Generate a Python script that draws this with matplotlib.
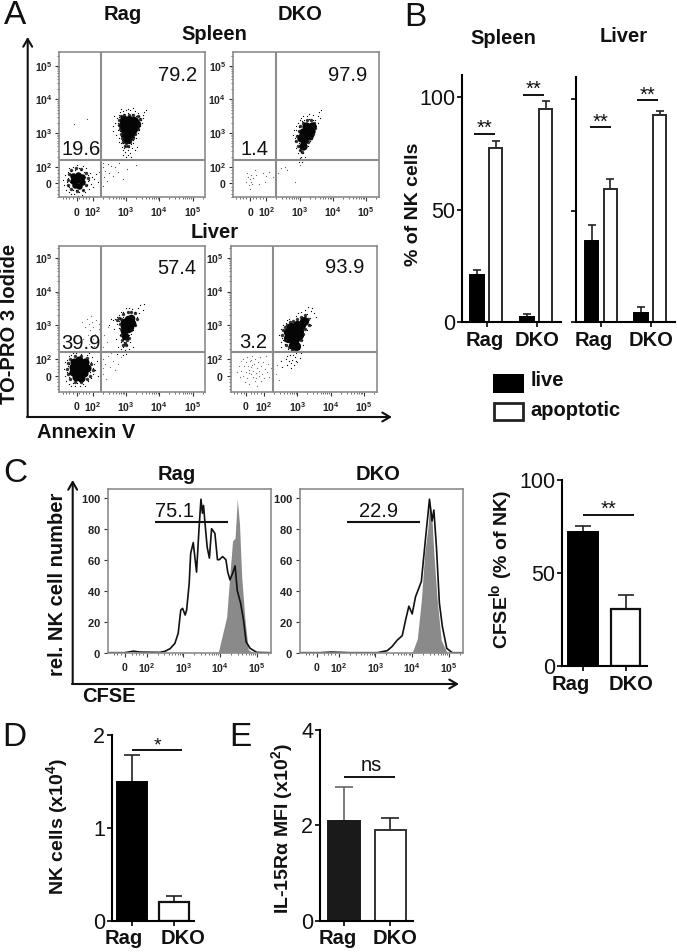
import numpy as np
import matplotlib
matplotlib.use('Agg')
import matplotlib.pyplot as plt
from matplotlib.patches import Rectangle

plt.rcParams['font.family'] = ['Liberation Sans', 'DejaVu Sans']
plt.rcParams['mathtext.fontset'] = 'custom'
plt.rcParams['mathtext.rm'] = 'Liberation Sans'
plt.rcParams['mathtext.bf'] = 'Liberation Sans:bold'
plt.rcParams['mathtext.default'] = 'regular'

W, H = 677, 952

# ---------- DATA ----------
# FACS populations, positions in decades of the biexponential axis
p1_hi_core = [(2.95,3.38),(3.1,3.4),(3.25,3.36),(2.92,3.24),(3.05,3.25),(3.2,3.25),(3.3,3.26),(2.96,3.1),(3.08,3.08),(3.2,3.12),(3.0,2.95),(3.12,2.96),(3.04,2.82)]
p1_hi_mid = [(2.78,3.4),(2.8,3.25),(2.82,3.12),(2.85,2.98),(2.88,2.85),(2.92,2.72),(2.96,2.62),(3.05,2.62),(3.12,2.72),(3.2,2.85),(3.28,2.98),(3.35,3.12),(3.4,3.28),(3.42,3.42),(3.35,3.5),(3.22,3.55),(3.08,3.55),(2.95,3.54),(2.84,3.5),(3.0,2.7),(3.14,2.82),(2.9,3.0)]
p1_hi_dots = [(2.68,3.3),(2.72,3.45),(2.75,3.1),(2.78,3.55),(2.7,2.95),(2.8,2.85),(2.82,3.62),(2.85,2.7),(2.9,3.66),(2.88,2.6),(2.95,2.55),(3.0,3.7),(2.98,2.45),(3.05,3.72),(3.05,2.5),(3.1,2.6),(3.12,3.68),(3.18,2.55),(3.2,3.75),(3.22,2.7),(3.28,3.65),(3.3,2.85),(3.35,3.6),(3.35,3.0),(3.4,3.5),(3.42,3.2),(3.45,3.4),(3.5,3.55),(3.55,3.62),(3.48,3.3),(2.62,3.2),(2.65,3.5),(3.32,2.6),(2.92,2.35),(3.0,2.3),(2.76,3.3),(2.8,3.48),(2.82,3.05),(2.84,2.92),(2.86,3.5),(2.88,2.78),(2.92,2.7),(2.96,2.62),(3.02,2.62),(3.08,2.7),(3.14,2.68),(3.2,2.78),(3.24,2.88),(3.28,3.0),(3.38,3.1),(3.38,3.34),(3.42,3.46),(3.3,3.52),(3.18,3.58),(3.06,3.6),(2.94,3.56),(3.12,2.42),(3.05,2.35),(2.9,2.5),(2.78,2.72),(3.26,2.5),(3.52,3.45),(3.6,3.7),(2.6,3.05),(3.15,2.3),(2.86,3.72)]
p1_lo_core = [(1.42,1.72),(1.56,1.76),(1.68,1.68),(1.4,1.58),(1.54,1.6),(1.68,1.54),(1.48,1.46),(1.6,1.44)]
p1_lo_mid = [(1.25,1.6),(1.28,1.78),(1.36,1.9),(1.5,1.95),(1.66,1.92),(1.8,1.82),(1.85,1.65),(1.8,1.45),(1.7,1.32),(1.52,1.28),(1.36,1.35),(1.27,1.45)]
p1_lo_dots = [(1.12,1.6),(1.15,1.45),(1.18,1.75),(1.2,1.3),(1.22,1.55),(1.25,1.85),(1.26,1.65),(1.28,1.25),(1.3,1.4),(1.3,1.95),(1.33,1.78),(1.35,1.2),(1.36,1.88),(1.4,1.3),(1.42,2.0),(1.45,1.18),(1.48,1.9),(1.5,1.3),(1.52,2.05),(1.55,1.14),(1.58,1.95),(1.6,1.25),(1.65,1.9),(1.68,1.15),(1.7,2.02),(1.72,1.32),(1.75,1.85),(1.78,1.25),(1.8,1.95),(1.82,1.45),(1.85,1.75),(1.88,1.35),(1.9,1.6),(1.92,1.82),(1.95,1.5),(1.98,1.7),(2.0,1.4),(2.05,1.62),(2.1,1.78),(2.15,1.55),(1.85,1.58),(1.78,1.68),(1.25,1.42),(1.32,1.55)]
p1_sparse = [(2.3,2.0),(2.38,1.88),(2.45,2.08),(2.5,1.82),(2.55,2.02),(2.62,1.72),(2.35,1.7),(2.68,2.0),(2.75,1.85),(3.02,1.92),(2.92,1.62),(2.3,1.42),(2.42,1.58),(2.32,2.12),(2.2,1.85),(2.24,1.65),(1.82,3.42),(1.45,3.28),(2.78,2.12),(3.3,2.05)]
p2_hi_core = [(3.05,2.84),(3.15,2.78),(3.18,2.95),(3.28,2.9),(3.22,3.08),(3.34,3.05),(3.38,3.2),(3.12,3.02),(3.1,2.62),(3.2,3.2)]
p2_hi_mid = [(2.9,2.75),(2.92,2.9),(2.98,3.05),(3.02,3.2),(3.1,3.3),(3.22,3.38),(3.35,3.4),(3.45,3.3),(3.48,3.15),(3.42,2.98),(3.35,2.85),(3.25,2.72),(3.18,2.58),(3.08,2.45),(3.0,2.5),(2.94,2.62),(3.0,2.95),(3.1,2.9)]
p2_hi_dots = [(2.8,2.95),(2.82,3.1),(2.85,2.75),(2.88,3.2),(2.9,2.55),(2.92,2.95),(2.95,3.3),(2.95,2.4),(2.98,2.7),(3.0,2.25),(3.02,3.38),(3.02,2.5),(3.05,2.3),(3.05,3.45),(3.1,2.42),(3.12,3.5),(3.15,2.55),(3.18,2.3),(3.22,3.52),(3.25,2.62),(3.3,3.58),(3.32,2.75),(3.4,2.9),(3.42,3.55),(3.45,3.05),(3.48,3.4),(3.5,3.2),(3.55,3.5),(3.6,3.62),(3.62,3.45),(3.65,3.68),(3.56,3.3),(2.86,2.85),(2.9,3.08),(2.96,2.85),(2.98,3.18),(3.08,3.35),(3.0,2.6),(3.06,2.45),(3.15,3.38),(3.28,3.42),(3.36,2.98),(3.4,3.4),(2.98,2.15),(3.08,2.15),(3.12,2.2)]
p2_lo_dots = [(1.4,1.55),(1.45,1.7),(1.48,1.45),(1.5,1.62),(1.52,1.35),(1.55,1.75),(1.55,1.55),(1.58,1.48),(1.6,1.65),(1.42,1.82),(1.65,1.9),(1.9,1.82),(2.0,1.72),(1.95,1.55),(2.08,1.85),(2.2,1.7),(2.35,1.8),(2.45,1.95),(2.55,2.0),(2.62,1.9),(2.85,1.55),(3.0,2.05),(1.78,1.5),(1.7,1.75)]
p3_hi_core = [(2.95,3.1),(3.05,3.2),(3.15,3.22),(2.95,2.98),(3.06,3.05),(3.18,3.08),(2.95,2.82),(3.05,2.88),(3.12,2.95),(2.98,2.68)]
p3_hi_mid = [(2.72,3.15),(2.78,3.22),(2.82,3.05),(2.86,2.9),(2.86,2.72),(2.88,2.55),(2.96,2.48),(3.04,2.55),(3.1,2.62),(3.16,2.85),(3.26,3.0),(3.32,3.2),(3.28,3.35),(3.16,3.38),(3.05,3.38),(2.92,3.32),(2.86,3.2),(3.0,2.4),(2.9,2.42)]
p3_hi_dots = [(2.55,3.2),(2.6,3.15),(2.66,3.2),(2.72,3.05),(2.72,3.25),(2.78,2.92),(2.78,3.3),(2.8,3.12),(2.82,2.7),(2.84,2.5),(2.85,3.38),(2.86,2.3),(2.88,2.85),(2.9,2.58),(2.92,2.35),(2.92,3.4),(2.95,2.5),(2.98,2.25),(3.0,3.5),(3.02,2.42),(3.05,2.6),(3.08,2.3),(3.1,3.52),(3.12,2.5),(3.15,2.75),(3.18,3.48),(3.2,2.35),(3.22,2.85),(3.26,3.4),(3.28,3.0),(3.32,3.25),(3.35,3.5),(3.4,3.35),(3.42,3.6),(3.5,3.45),(3.55,3.62),(2.65,2.9),(2.7,2.6),(2.76,2.35),(2.74,2.15),(2.9,3.25),(2.88,3.05),(3.25,3.15),(3.1,2.7),(2.82,3.22),(2.9,2.12),(3.0,2.15),(2.48,3.02)]
p3_lo_core = [(1.45,1.92),(1.6,1.98),(1.78,1.9),(1.4,1.76),(1.56,1.78),(1.72,1.76),(1.84,1.74),(1.42,1.6),(1.58,1.6),(1.74,1.58),(1.5,1.46),(1.65,1.44)]
p3_lo_mid = [(1.22,1.7),(1.25,1.88),(1.32,2.0),(1.48,2.08),(1.66,2.08),(1.84,2.02),(1.95,1.85),(2.0,1.68),(1.92,1.5),(1.82,1.4),(1.65,1.32),(1.48,1.32),(1.32,1.4),(1.25,1.55)]
p3_lo_dots = [(1.15,1.7),(1.17,1.5),(1.18,1.9),(1.2,1.35),(1.22,1.62),(1.24,1.98),(1.25,1.78),(1.28,1.25),(1.28,1.45),(1.3,2.08),(1.3,1.85),(1.34,1.18),(1.36,2.12),(1.4,1.28),(1.42,2.18),(1.46,1.2),(1.5,2.16),(1.54,1.28),(1.58,2.2),(1.62,1.18),(1.66,2.14),(1.7,1.24),(1.74,2.22),(1.78,1.2),(1.82,2.12),(1.86,1.34),(1.9,2.16),(1.94,1.42),(1.98,2.05),(2.02,1.55),(2.04,1.85),(2.08,1.68),(2.12,1.95),(2.15,1.5),(2.0,1.72),(1.95,1.9),(1.28,1.58),(1.92,1.62)]
p3_sparse = [(1.68,3.1),(1.72,2.6),(1.78,2.95),(1.82,3.18),(1.85,2.72),(1.88,3.05),(1.9,2.45),(1.92,2.85),(1.95,3.28),(1.98,3.1),(2.0,2.6),(2.02,2.95),(2.05,2.38),(2.08,2.75),(2.1,3.15),(2.14,2.52),(2.18,2.9),(2.2,3.05),(2.3,2.35),(2.35,2.7),(2.42,2.5),(2.45,2.95),(2.3,2.0),(2.38,1.85),(2.45,2.08),(2.52,1.75),(2.6,1.95),(2.68,1.68),(2.75,1.85),(2.3,1.55),(2.4,1.4),(2.32,1.72),(2.85,2.05),(2.55,2.18)]
p4_hi_core = [(2.72,2.62),(2.84,2.72),(2.72,2.8),(2.88,2.88),(3.0,3.02),(3.12,3.02),(3.04,2.84),(2.92,2.58),(3.06,2.7),(3.2,3.12),(2.86,2.42),(2.96,2.38),(2.8,2.94),(2.95,2.75)]
p4_hi_mid = [(2.55,2.72),(2.58,2.85),(2.62,2.55),(2.64,2.95),(2.7,3.02),(2.78,3.1),(2.88,3.12),(2.98,3.2),(3.1,3.25),(3.22,3.3),(3.32,3.2),(3.34,3.02),(3.22,2.9),(3.18,2.75),(3.1,2.55),(3.02,2.42),(2.96,2.25),(2.85,2.25),(2.75,2.35),(2.66,2.42)]
p4_hi_dots = [(2.45,2.7),(2.5,2.5),(2.5,2.88),(2.52,2.35),(2.55,2.62),(2.58,3.0),(2.6,2.2),(2.6,2.78),(2.62,2.45),(2.66,3.08),(2.68,2.1),(2.7,3.16),(2.72,2.28),(2.74,1.95),(2.76,3.2),(2.78,2.12),(2.8,1.88),(2.82,2.22),(2.85,1.98),(2.88,2.12),(2.9,1.82),(2.92,2.05),(2.95,3.28),(2.96,2.18),(3.0,1.9),(3.02,3.35),(3.05,2.3),(3.08,2.02),(3.12,3.4),(3.15,2.55),(3.18,2.42),(3.22,3.45),(3.28,2.85),(3.3,3.32),(3.34,3.05),(3.38,3.22),(3.4,3.42),(3.42,3.0),(3.45,3.5),(3.5,3.35),(3.32,3.55),(3.55,3.25),(2.7,1.82),(2.82,1.72),(2.95,1.95),(2.66,2.0),(2.58,2.55),(3.1,2.16),(2.5,1.95),(2.55,1.75)]
p4_lo_dots = [(1.2,1.6),(1.25,1.8),(1.28,1.45),(1.3,1.95),(1.32,1.65),(1.36,2.0),(1.38,1.5),(1.4,1.78),(1.42,1.3),(1.45,1.92),(1.46,1.62),(1.48,2.05),(1.5,1.42),(1.52,1.8),(1.54,1.68),(1.56,1.25),(1.58,1.95),(1.6,1.55),(1.62,1.75),(1.64,2.1),(1.66,1.45),(1.68,1.65),(1.7,1.85),(1.72,1.35),(1.74,2.0),(1.76,1.58),(1.78,1.72),(1.8,1.18),(1.82,1.9),(1.84,1.48),(1.86,1.65),(1.88,2.05),(1.9,1.35),(1.92,1.78),(1.95,1.55),(1.98,1.92),(2.0,1.42),(2.02,1.7),(2.05,2.1),(2.08,1.6),(2.12,1.85),(2.16,1.45),(2.2,1.72),(1.55,1.58),(1.65,1.82),(1.75,1.42),(1.6,1.98),(2.35,1.55),(2.45,1.38),(2.4,1.82)]

facs_numbers = [('79.2','19.6'), ('97.9','1.4'), ('57.4','39.9'), ('93.9','3.2')]

# CFSE histograms (decades, % of max)
rag_line_x = [0.94,1.41,1.64,1.82,2.36,2.5,2.64,2.77,2.86,2.93,2.98,3.05,3.09,3.16,3.2,3.27,3.36,3.43,3.48,3.52,3.55,3.6,3.65,3.71,3.77,3.86,3.93,3.98,4.07,4.16,4.21,4.27,4.34,4.41,4.47,4.56,4.64,4.71,4.82,5.0,5.38]
rag_line_y = [0,0,1,0.4,0.2,0.9,2.6,6,12.5,27.5,28.6,24.3,27.5,44.7,64,71,52,81,99,90,95,81,68,61,80,77,60,60,62,60,52,47,51,56,40,32,21,7,2.8,0.2,0]
rag_fill_x = [3.95,4.05,4.18,4.27,4.34,4.41,4.47,4.53,4.59,4.68,4.77,4.91]
rag_fill_y = [0,10,23,51,72,74,99,83,49,21,2,0]
dko_line_x = [0.95,1.5,1.8,2.3,3.05,3.32,3.45,3.59,3.73,3.82,3.91,4.0,4.09,4.25,4.36,4.47,4.54,4.59,4.66,4.74,4.82,4.94,5.09,5.38]
dko_line_y = [0,0,0.4,0,0,1.3,3.9,8,11,21,30,25,36,46,73,99,85,92,68,32,17,2.8,0,0]
dko_fill_x = [4.0,4.14,4.25,4.34,4.43,4.48,4.54,4.59,4.68,4.79,4.95]
dko_fill_y = [0,9,34,64,81,99,85,64,34,8,0]
cfse_numbers = ['75.1', '22.9']

# Bar panels
groups = ['Rag', 'DKO']
spleen_live = [21, 2.5];   spleen_live_err = [2, 1.2]
spleen_apop = [77.5, 94.5]; spleen_apop_err = [2.8, 3.6]
liver_live = [36.5, 4];    liver_live_err = [7, 3]
liver_apop = [59.5, 93];   liver_apop_err = [4.5, 1.5]
spleen_sig = [83.7, 101]
liver_sig = [87.5, 99.5]
cfse_lo = [72, 30.5];  cfse_lo_err = [3.3, 7.5]
nk_cells = [1.5, 0.2]; nk_cells_err = [0.29, 0.07]
il15 = [2.1, 1.9];     il15_err = [0.7, 0.25]

# ---------- HELPERS ----------
fig = plt.figure(figsize=(W/100, H/100), dpi=100)

def px_axes(l, t, r, b, **kw):
    return fig.add_axes([l/W, 1-b/H, (r-l)/W, (b-t)/H], **kw)

ov = fig.add_axes([0, 0, 1, 1], zorder=20)
ov.set_xlim(0, W); ov.set_ylim(H, 0); ov.axis('off'); ov.patch.set_alpha(0)

def T(x, y, s, size=14.5, bold=True, rot=0, ha='center', va='center', color='#111111'):
    ov.text(x, y, s, fontsize=size, fontweight='bold' if bold else 'normal', rotation=rot,
            ha=ha, va=va, color=color)

def arrow(x0, y0, x1, y1):
    ov.annotate('', xy=(x1, y1), xytext=(x0, y0),
                arrowprops=dict(arrowstyle='->,head_length=0.55,head_width=0.32', lw=1.5,
                                color='#111111', shrinkA=0, shrinkB=0))

GRAY = '#8c8c8c'
minor = [1.1,1.2,1.3,1.4,1.6,1.7,1.8,1.9] + [d+np.log10(k) for d in (2,3,4) for k in range(2,10)] + [5.3]
dec_labels = [r'$\mathbf{0}$', r'$\mathbf{10^{2}}$', r'$\mathbf{10^{3}}$', r'$\mathbf{10^{4}}$', r'$\mathbf{10^{5}}$']

def facs_axes(l, t, r, b, xr, yr, xz=1.52, yz=1.51, ylabels=None, ticks_y=None):
    ax = px_axes(l, t, r, b)
    ax.set_xlim(*xr); ax.set_ylim(*yr)
    for s in ax.spines.values():
        s.set_color(GRAY); s.set_linewidth(1.2)
    ax.set_xticks([xz, 2, 3, 4, 5])
    ax.set_xticklabels(dec_labels, fontsize=7.5, color='#222222')
    ax.set_xticks(minor, minor=True)
    ax.tick_params(axis='x', which='major', length=3, width=0.8, pad=3, color='#333333')
    ax.tick_params(axis='x', which='minor', length=1.5, width=0.5, color='#333333')
    if ticks_y is None:
        ax.set_yticks([yz, 2, 3, 4, 5])
        ax.set_yticklabels(dec_labels, fontsize=7.5, color='#222222')
        ax.set_yticks(minor, minor=True)
    else:
        ax.set_yticks(ticks_y)
        ax.set_yticklabels(ylabels, fontsize=8, color='#222222')
    ax.tick_params(axis='y', which='major', length=3, width=0.8, pad=2, color='#333333')
    ax.tick_params(axis='y', which='minor', length=1.5, width=0.5, color='#333333')
    return ax

def cloud(ax, core, dots, mid=None, core_s=38, dot_s=0.8, mid_s=6, alpha=1.0):
    if core:
        c = np.array(core)
        ax.scatter(c[:, 0], c[:, 1], s=core_s, c='#050505', linewidths=0, zorder=2)
    if mid:
        m = np.array(mid)
        ax.scatter(m[:, 0], m[:, 1], s=mid_s, c='#101010', linewidths=0, alpha=0.85, zorder=2)
    d = np.array(dots)
    ax.scatter(d[:, 0], d[:, 1], s=dot_s, c='black', linewidths=0, alpha=alpha, zorder=2)

def gates(ax, vx, hy):
    ax.axvline(vx, color=GRAY, lw=1.5, zorder=3)
    ax.axhline(hy, color=GRAY, lw=1.5, zorder=3)

def bar_axes(l, t, r, b, yticks, ylabels, ymax, y0=0, ticksize=15.5):
    ax = px_axes(l, t, r, b)
    ax.set_xlim(l, r); ax.set_ylim(y0, ymax)
    ax.patch.set_alpha(0)
    ax.spines['top'].set_visible(False); ax.spines['right'].set_visible(False)
    ax.spines['left'].set_linewidth(1.5); ax.spines['bottom'].set_linewidth(1.5)
    ax.set_yticks(yticks); ax.set_yticklabels(ylabels, fontsize=ticksize, color='#111111')
    ax.tick_params(axis='y', length=3.5, width=1.2, pad=1.5)
    ax.tick_params(axis='x', length=3.5, width=1.2)
    return ax

def bar(ax, x0, x1, v, e, filled=True, fc='black', ec='black', ecolor='#222222', lw=1.4):
    c = (x0 + x1) / 2
    ax.errorbar([c], [v], yerr=[[0], [e]], color=ecolor, capsize=(x1-x0)*0.2, capthick=1.2,
                elinewidth=1.2, zorder=1, fmt='none')
    ax.bar([c], [v], width=x1-x0, color=fc if filled else 'white', edgecolor=ec if not filled else fc,
           linewidth=lw, zorder=2)

def sig(ax, x0, x1, y):
    ax.plot([x0, x1], [y, y], color='#111111', lw=1.4, zorder=3, solid_capstyle='butt')

# ---------- PANEL A ----------
T(15, 15, 'A', 24, False)
T(123, 15, 'Rag'); T(300, 15, 'DKO'); T(214, 35, 'Spleen'); T(215, 232, 'Liver')
xr = (1.0, 5.38); yr = (1.09, 5.42)

a1 = facs_axes(59.3, 51.7, 205.3, 197.3, xr, yr)
cloud(a1, p1_hi_core, p1_hi_dots, p1_hi_mid, core_s=44); cloud(a1, p1_lo_core, p1_lo_dots, p1_lo_mid, core_s=22); cloud(a1, None, p1_sparse, alpha=.7)
gates(a1, 2.26, 2.19)
a2 = facs_axes(233, 51.7, 379.3, 197.3, (1.0, 5.4), yr)
cloud(a2, p2_hi_core, p2_hi_dots, p2_hi_mid, core_s=36); cloud(a2, None, p2_lo_dots, alpha=.6)
gates(a2, 2.29, 2.19)
a3 = facs_axes(59.3, 245.5, 205.3, 391.5, xr, (1.03, 5.37), xz=1.52, yz=1.5)
cloud(a3, p3_hi_core, p3_hi_dots, p3_hi_mid, core_s=30); cloud(a3, p3_lo_core, p3_lo_dots, p3_lo_mid, core_s=34); cloud(a3, None, p3_sparse, alpha=.55)
gates(a3, 2.26, 2.19)
a4 = facs_axes(230.7, 245.5, 377.3, 391.5, (1.0, 5.4), (1.03, 5.37), xz=1.46, yz=1.5)
cloud(a4, p4_hi_core, p4_hi_dots, p4_hi_mid, core_s=44); cloud(a4, None, p4_lo_dots, alpha=.55)
gates(a4, 2.26, 2.19)

for (up, lo), (ux, uy, lx, ly) in zip(facs_numbers, [(177.5, 75.5, 81, 149.5), (348, 75.5, 255, 149.5),
                                                     (177, 269, 81, 343.5), (345, 267.5, 253, 343)]):
    T(ux, uy, up, 14.5, False); T(lx, ly, lo, 14.5, False)

arrow(27.7, 417, 27.7, 37); arrow(27, 417, 392, 417)
T(10, 324, 'TO-PRO 3 Iodide', 14.5, rot=90)
T(37, 432, 'Annexin V', 14.5, ha='left')

# ---------- PANEL B ----------
T(415, 17, 'B', 24, False)
T(503, 38, 'Spleen'); T(624, 37, 'Liver')
b1 = bar_axes(462, 75, 560.7, 322.3, [0, 50, 100], ['0', '50', '100'], 109.8)
b2 = bar_axes(576, 76.7, 674.7, 322.3, [0, 50, 100], ['', '', ''], 110)
for ax, live, le, apop, ae, xs, ticks in [
    (b1, spleen_live, spleen_live_err, spleen_apop, spleen_apop_err,
     [(470.3, 484), (489.3, 502.3), (520, 533.7), (539.3, 552)], [487, 537]),
    (b2, liver_live, liver_live_err, liver_apop, liver_apop_err,
     [(585, 598.3), (603.7, 616.7), (634.3, 647.7), (653, 666)], [601, 650.5])]:
    bar(ax, *xs[0], live[0], le[0]); bar(ax, *xs[1], apop[0], ae[0], filled=False, ec='#2a2a2a')
    bar(ax, *xs[2], live[1], le[1]); bar(ax, *xs[3], apop[1], ae[1], filled=False, ec='#2a2a2a')
    ax.set_xticks(ticks); ax.set_xticklabels([])
for x, lab in zip([485, 537.5, 594, 651], groups*2):
    T(x, 340, lab, 14.5)
for ax, ys, spans in [(b1, spleen_sig, [(474, 494.7), (522.7, 544)]), (b2, liver_sig, [(590, 611.3), (636.7, 658)])]:
    for y, (x0, x1) in zip(ys, spans):
        sig(ax, x0, x1, y)
        ax.text((x0+x1)/2, y-2, '**', fontsize=14.5, ha='center', va='bottom', color='#111111',
                linespacing=1)
T(413, 204, '% of NK cells', 14, rot=90)
ov.add_patch(Rectangle((493.3, 373.7), 30.7, 19.5, fc='black', ec='black', lw=0))
ov.add_patch(Rectangle((494.3, 402.5), 28.7, 17.5, fc='white', ec='#222222', lw=2))
T(530.5, 381, 'live', 14.5, ha='left'); T(530.5, 410, 'apoptotic', 14.5, ha='left')

# ---------- PANEL C ----------
T(15, 473, 'C', 24, False)
T(177, 474, 'Rag'); T(378, 474, 'DKO')
hticks = [0, 20, 40, 60, 80, 100]
hlabels = [rf'$\mathbf{{{v}}}$' for v in hticks]
c1 = facs_axes(107.7, 489.3, 270.7, 652.7, (0.94, 5.38), (0, 105.4), xz=1.41, ylabels=hlabels, ticks_y=hticks)
c2 = facs_axes(300, 489.3, 463.3, 652.7, (0.95, 5.39), (0, 105.4), xz=1.41, ylabels=hlabels, ticks_y=hticks)
for ax, fx, fy, lx, ly, gx, num, nx in [
    (c1, rag_fill_x, rag_fill_y, rag_line_x, rag_line_y, (2.23, 4.23), cfse_numbers[0], 175),
    (c2, dko_fill_x, dko_fill_y, dko_line_x, dko_line_y, (2.23, 4.21), cfse_numbers[1], 379)]:
    ax.fill_between(fx, fy, 0, color='#8a8a8a', linewidth=0, zorder=1)
    ax.plot(lx, ly, color='#111111', lw=1.2, zorder=2)
    ax.plot(gx, [84.5, 84.5], color='#111111', lw=1.5, zorder=3, solid_capstyle='butt')
    ax.tick_params(axis='y', which='major', pad=2)
    T(nx, 511.5, num, 14.5, False)
arrow(72.7, 684, 72.7, 480); arrow(72, 684, 459, 684)
T(58, 584, 'rel. NK cell number', 14.5, rot=90)
T(82, 697, 'CFSE', 14.5, ha='left')

c3 = bar_axes(562, 480, 646.7, 666, [0, 50, 100], ['0', '50', '100'], 100)
bar(c3, 568.3, 598.3, cfse_lo[0], cfse_lo_err[0]); bar(c3, 611, 640.3, cfse_lo[1], cfse_lo_err[1], filled=False, ec='#111111', lw=1.6)
c3.set_xticks([583.5, 626]); c3.set_xticklabels([])
T(571, 685, 'Rag'); T(631, 685, 'DKO')
sig(c3, 583.3, 634, 81)
c3.text(608.5, 79, '**', fontsize=14.5, ha='center', va='bottom', color='#111111')
T(500.7, 570, 'CFSE$^{\\mathbf{lo}}$ (% of NK)', 14, rot=90)

# ---------- PANEL D ----------
T(14, 737, 'D', 24, False)
d = bar_axes(112, 735.3, 194.3, 920.7, [0, 1, 2], ['0', '1', '2'], 2)
bar(d, 117, 147, nk_cells[0], nk_cells_err[0]); bar(d, 159.3, 188.7, nk_cells[1], nk_cells_err[1], filled=False, ec='#111111', lw=1.6)
d.set_xticks([132, 174]); d.set_xticklabels([])
T(124, 939, 'Rag'); T(183, 939, 'DKO')
sig(d, 131.7, 182.3, 1.84)
d.text(157.5, 1.79, '*', fontsize=14, ha='center', va='bottom', color='#111111')
T(56.7, 826, 'NK cells (x10$^{\\mathbf{4}}$)', 14, rot=90)

# ---------- PANEL E ----------
T(240, 737, 'E', 24, False)
e = bar_axes(320, 730, 413, 920.7, [0, 2, 4], ['0', '2', '4'], 4)
bar(e, 328, 360, il15[0], il15_err[0], fc='#1a1a1a', ecolor='#666666'); bar(e, 374.7, 406, il15[1], il15_err[1], filled=False, ec='#333333', lw=1.4)
e.set_xticks([344, 390]); e.set_xticklabels([])
T(338, 939, 'Rag'); T(395, 939, 'DKO')
sig(e, 344.3, 395, 3.02)
e.text(371, 3.06, 'ns', fontsize=14.5, ha='center', va='bottom', color='#111111')
T(281.7, 829, 'IL-15R\u03b1 MFI (x10$^{\\mathbf{2}}$)', 14, rot=90)

fig.savefig('out.png', dpi=100)
